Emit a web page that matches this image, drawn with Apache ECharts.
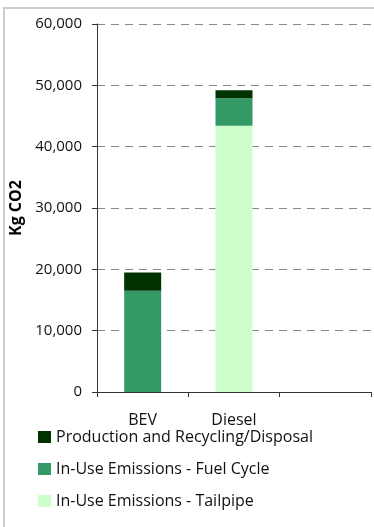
<!DOCTYPE html>
<html>
<head>
<meta charset="utf-8">
<script src="https://cdn.jsdelivr.net/npm/echarts@6/dist/echarts.min.js"></script>
<style>
  html, body { margin: 0; padding: 0; background: #fff; overflow: hidden; }
  .frame {
    position: absolute; left: 3px; top: 7px; width: 420px; height: 560px;
    border-left: 2px solid #cccccc; border-top: 2px solid #cccccc;
  }
  #barChart { position: absolute; left: 0; top: 0; width: 374px; height: 527px; }
</style>
</head>
<body>
<div class="frame"></div>
<div id="barChart"></div>
<script>
const categories = ['BEV', 'Diesel', ''];
const productionData = [3000, 1300, null];
const fuelCycleData = [16500, 4500, null];
const tailpipeData = [0, 43400, null];
const yTicks = [0, 10000, 20000, 30000, 40000, 50000, 60000];

let myChart = echarts.init(document.getElementById('barChart'));
let font = 'Open Sans, sans-serif';
let option = {
  animation: false,
  textStyle: { fontFamily: font },
  grid: { left: 97, top: 24, right: 3, bottom: 135 },
  legend: {
    orient: 'vertical',
    left: 33,
    top: 424,
    itemWidth: 13,
    itemHeight: 12,
    itemGap: 16,
    icon: 'rect',
    data: ['Production and Recycling/Disposal', 'In-Use Emissions - Fuel Cycle', 'In-Use Emissions - Tailpipe'],
    textStyle: { fontSize: 16, color: '#111', fontFamily: font }
  },
  xAxis: {
    type: 'category',
    data: categories,
    axisLine: { lineStyle: { color: '#333', width: 1 } },
    axisTick: { show: true, length: 5, lineStyle: { color: '#333' } },
    axisLabel: { fontSize: 16, color: '#111', margin: 20 }
  },
  yAxis: {
    type: 'value',
    min: yTicks[0],
    max: yTicks[yTicks.length - 1],
    interval: 10000,
    name: 'Kg CO2',
    nameLocation: 'middle',
    nameGap: 71,
    nameTextStyle: { fontSize: 16, fontWeight: 'bold', color: '#000' },
    axisLine: { show: true, lineStyle: { color: '#333' } },
    axisTick: { show: true, length: 5, lineStyle: { color: '#333' } },
    axisLabel: {
      fontSize: 15, color: '#111', margin: 15,
      formatter: function (v) { return v.toLocaleString('en-US'); }
    },
    splitLine: { show: true, lineStyle: { color: '#888', type: [8, 6] } }
  },
  series: [{
    name: 'In-Use Emissions - Tailpipe',
    type: 'bar',
    stack: 'total',
    barWidth: 37,
    itemStyle: { color: '#ccffcc' },
    data: tailpipeData
  }, {
    name: 'In-Use Emissions - Fuel Cycle',
    type: 'bar',
    stack: 'total',
    barWidth: 37,
    itemStyle: { color: '#339966' },
    data: fuelCycleData
  }, {
    name: 'Production and Recycling/Disposal',
    type: 'bar',
    stack: 'total',
    barWidth: 37,
    itemStyle: { color: '#003300' },
    data: productionData
  }]
};
myChart.setOption(option);
</script>
</body>
</html>
